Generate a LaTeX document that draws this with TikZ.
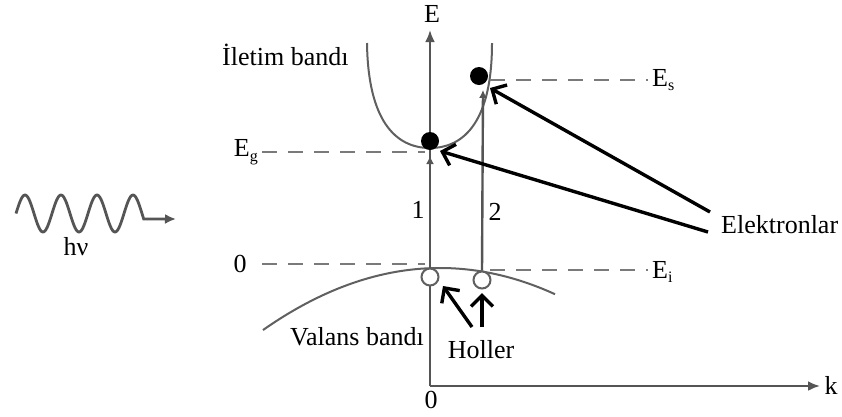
\documentclass[tikz,border=0pt]{standalone}
\usepackage{fontspec}
\setmainfont{Liberation Serif}
\usetikzlibrary{arrows.meta}
\definecolor{bandgray}{HTML}{606060}
\definecolor{axisgray}{HTML}{555555}
\definecolor{dashgray}{HTML}{7A7A7A}
\newcommand\subs[1]{\raisebox{-0.4ex}{\fontsize{16}{16}\selectfont #1}}
\begin{document}
\begin{tikzpicture}[x=1pt,y=-1pt,
  lbl/.style={font=\fontsize{26}{31}\selectfont, inner sep=0pt},
  band/.style={draw=bandgray, line width=2pt},
  axis/.style={draw=axisgray, line width=2.4pt, -{Latex[length=12pt,width=10pt]}},
  dashline/.style={draw=dashgray, line width=2.6pt, dash pattern=on 15pt off 11pt},
  trans/.style={draw=axisgray, line width=2.4pt, -{Latex[length=8pt,width=8pt]}},
  pointer/.style={draw=black, line width=3.4pt, -{Straight Barb[length=11pt,width=22pt]}},
  electron/.style={circle, fill=black, minimum size=18pt, inner sep=0pt},
  hole/.style={circle, draw=bandgray, fill=white, line width=2pt, minimum size=17pt, inner sep=0pt},
  wavey/.style={draw=axisgray, line width=2.8pt, -{Latex[length=11pt,width=10pt]}}
]
\fill[white] (0,0) rectangle (842,416);
\useasboundingbox (0,0) rectangle (842,416);

% bands
\draw[band] (367,43) .. controls (368,120) and (395,148) .. (430,148)
            .. controls (465,148) and (492,120) .. (492,43);
\draw[band, domain=263:555, samples=60, smooth] plot (\x, {268+0.198*((\x-440)/10)*((\x-440)/10)});

% dashed levels
\draw[dashline] (262,152) -- (425,152);
\draw[dashline] (262,264) -- (425,264);
\draw[dashline] (490,80) -- (648,80);
\draw[dashline] (490,270) -- (648,270);

% axes
\coordinate (O) at (430,386);
\coordinate (Etop) at (430,30);
\coordinate (ktip) at (820,386);
\draw[axis] (O) -- (Etop);
\draw[axis] (O) -- (ktip);

% carriers
\node[hole] (h1) at (430,277) {};
\node[hole] (h2) at (482,280) {};
\coordinate (tip1) at (430,156);
\coordinate (tip2) at (483,90);
\draw[trans] (h1.north) -- (tip1);
\draw[trans] (h2.north) -- (tip2);
\node[electron] (e1) at (430,141) {};
\node[electron] (e2) at (479,76) {};

% labels
\node[lbl, anchor=west] (cb) at (222,55) {İletim bandı};
\node[lbl] (E) at (432,14) {E};
\node[lbl] (k) at (831,385) {k};
\node[lbl] (zb) at (431,400) {0};
\node[lbl] (zl) at (240,264) {0};
\node[lbl, anchor=east] (Eg) at (258,152) {E\subs{g}};
\node[lbl, anchor=west] (Es) at (652,80) {E\subs{s}};
\node[lbl, anchor=west] (Ei) at (652,272) {E\subs{i}};
\node[lbl] (n1) at (418,210) {1};
\node[lbl] (n2) at (495,212) {2};
\node[lbl, anchor=west] (el) at (721,225) {Elektronlar};
\node[lbl, anchor=east] (vb) at (424,337) {Valans bandı};
\node[lbl] (ho) at (481,350) {Holler};
\node[lbl] (hv) at (76,247) {hν};

% pointers
\coordinate (p1) at (708,232);
\coordinate (p2) at (710,212);
\coordinate (t1) at (440,151);
\coordinate (t2) at (490,88);
\draw[pointer] (p1) -- (t1);
\draw[pointer] (p2) -- (t2);
\coordinate (q1) at (472,327);
\coordinate (q2) at (482,327);
\coordinate (s1) at (443,286);
\coordinate (s2) at (482,293);
\draw[pointer] (q1) -- (s1);
\draw[pointer] (q2) -- (s2);

% photon
\draw[wavey, domain=16:143.7, samples=120, smooth]
  plot (\x, {213.5-18.5*cos(10*(\x-25))}) -- (176,219);
\end{tikzpicture}
\end{document}
